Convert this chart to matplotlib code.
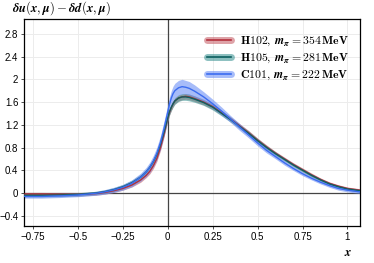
import matplotlib
matplotlib.use("Agg")
import matplotlib.pyplot as plt
import numpy as np

plt.rcParams['mathtext.fontset'] = 'cm'
plt.rcParams['font.family'] = ['Liberation Sans', 'DejaVu Sans']

x = [-0.8, -0.7, -0.6, -0.5, -0.4, -0.35, -0.3, -0.25, -0.2, -0.15, -0.12, -0.1,
     -0.08, -0.06, -0.04, -0.02, -0.01, 0.0, 0.01, 0.02, 0.03, 0.04, 0.06, 0.08,
     0.1, 0.12, 0.15, 0.2, 0.25, 0.3, 0.35, 0.4, 0.45, 0.5, 0.55, 0.6, 0.65, 0.7,
     0.75, 0.8, 0.85, 0.9, 0.95, 1.0, 1.07]

h102 = [-0.02, -0.02, -0.025, -0.025, -0.01, 0.01, 0.04, 0.08, 0.14, 0.23, 0.31, 0.38,
        0.48, 0.61, 0.80, 1.04, 1.18, 1.31, 1.42, 1.50, 1.57, 1.62, 1.67, 1.69,
        1.70, 1.69, 1.66, 1.60, 1.52, 1.41, 1.30, 1.18, 1.06, 0.93, 0.81, 0.70, 0.60, 0.50,
        0.41, 0.32, 0.24, 0.17, 0.12, 0.08, 0.05]
h102_err = [0.03, 0.03, 0.03, 0.03, 0.03, 0.03, 0.03, 0.03, 0.035, 0.04, 0.04, 0.045,
            0.05, 0.05, 0.05, 0.05, 0.05, 0.05, 0.05, 0.05, 0.05, 0.05, 0.05, 0.05,
            0.05, 0.05, 0.05, 0.05, 0.045, 0.04, 0.04, 0.04, 0.04, 0.035, 0.035, 0.03, 0.03, 0.03,
            0.03, 0.03, 0.025, 0.025, 0.025, 0.025, 0.025]

h105 = [-0.04, -0.04, -0.035, -0.025, 0.0, 0.025, 0.06, 0.11, 0.18, 0.28, 0.37, 0.45,
        0.55, 0.68, 0.86, 1.08, 1.20, 1.32, 1.43, 1.51, 1.57, 1.62, 1.67, 1.69,
        1.69, 1.68, 1.65, 1.59, 1.51, 1.40, 1.29, 1.17, 1.05, 0.92, 0.80, 0.69, 0.59, 0.49,
        0.40, 0.31, 0.23, 0.16, 0.11, 0.07, 0.04]
h105_err = [0.03, 0.03, 0.03, 0.03, 0.03, 0.03, 0.035, 0.04, 0.045, 0.05, 0.05, 0.055,
            0.06, 0.06, 0.06, 0.06, 0.06, 0.06, 0.06, 0.06, 0.06, 0.06, 0.06, 0.06,
            0.06, 0.06, 0.055, 0.05, 0.05, 0.045, 0.045, 0.04, 0.04, 0.04, 0.035, 0.035, 0.03, 0.03,
            0.03, 0.03, 0.025, 0.025, 0.025, 0.025, 0.025]

c101 = [-0.06, -0.06, -0.05, -0.035, -0.005, 0.02, 0.055, 0.10, 0.17, 0.28, 0.37, 0.45,
        0.56, 0.70, 0.89, 1.14, 1.28, 1.42, 1.56, 1.67, 1.75, 1.80, 1.85, 1.87,
        1.86, 1.84, 1.79, 1.69, 1.57, 1.44, 1.30, 1.16, 1.02, 0.88, 0.75, 0.64, 0.53, 0.43,
        0.34, 0.26, 0.19, 0.13, 0.08, 0.05, 0.02]
c101_err = [0.03, 0.03, 0.03, 0.03, 0.035, 0.04, 0.045, 0.05, 0.06, 0.07, 0.08, 0.09,
            0.10, 0.11, 0.12, 0.13, 0.13, 0.13, 0.13, 0.13, 0.13, 0.13, 0.13, 0.13,
            0.12, 0.12, 0.11, 0.09, 0.08, 0.07, 0.06, 0.06, 0.05, 0.05, 0.045, 0.04, 0.04, 0.035,
            0.035, 0.03, 0.03, 0.03, 0.03, 0.03, 0.03]

labels = [r'$\mathbf{H102},\,\mathbfit{m}_{\boldsymbol{\pi}}=\mathbf{354\,MeV}$',
          r'$\mathbf{H105},\,\mathbfit{m}_{\boldsymbol{\pi}}=\mathbf{281\,MeV}$',
          r'$\mathbf{C101},\,\mathbfit{m}_{\boldsymbol{\pi}}=\mathbf{222\,MeV}$']
line_colors = ['#b3303d', '#0d6060', '#3b6cf0']
band_colors = ['#c8646c', '#3f9595', '#6d90f5']

xticks = [-0.75, -0.5, -0.25, 0, 0.25, 0.5, 0.75, 1]
xticklabels = ['−0.75', '−0.5', '−0.25', '0', '0.25', '0.5', '0.75', '1']
yticks = [-0.4, 0, 0.4, 0.8, 1.2, 1.6, 2, 2.4, 2.8]
yticklabels = ['−0.4', '0', '0.4', '0.8', '1.2', '1.6', '2', '2.4', '2.8']

fig = plt.figure(figsize=(3.74, 2.63), dpi=100)
ax = fig.add_axes([0.064, 0.1407, 0.8986, 0.7871])

ax.axhline(0, color='#444444', lw=0.9, zorder=1)
ax.axvline(0, color='#444444', lw=0.9, zorder=1)

xa = np.array(x)
for ys, es, lc, bc in zip([h102, h105, c101], [h102_err, h105_err, c101_err], line_colors, band_colors):
    ya = np.array(ys); ea = np.array(es)
    ax.fill_between(xa, ya - ea, ya + ea, color=bc, alpha=0.6, lw=0, zorder=2)
    ax.plot(xa, ya, color=lc, lw=1.0, zorder=3)

from matplotlib.lines import Line2D
from matplotlib.legend_handler import HandlerBase

class BandHandler(HandlerBase):
    def __init__(self, lc, bc):
        super().__init__()
        self.lc = lc; self.bc = bc
    def create_artists(self, legend, orig_handle, xdescent, ydescent, width, height, fontsize, trans):
        y = height / 2 - ydescent
        l1 = Line2D([0, width], [y, y], color=self.bc, lw=5, alpha=0.6, solid_capstyle='round', transform=trans)
        l2 = Line2D([0, width], [y, y], color=self.lc, lw=1.2, transform=trans)
        return [l1, l2]

proxies = [Line2D([], []) for _ in labels]
hmap = {p: BandHandler(lc, bc) for p, lc, bc in zip(proxies, line_colors, band_colors)}
ax.legend(proxies, labels, handler_map=hmap, loc='upper right', bbox_to_anchor=(1.0, 0.975),
          frameon=False, fontsize=8.5, handlelength=2.0, handletextpad=0.8, labelspacing=0.3)

ax.set_xlim(-0.80, 1.07)
ax.set_ylim(-0.58, 3.06)
ax.set_xticks(xticks)
ax.set_xticklabels(xticklabels)
ax.set_yticks(yticks)
ax.set_yticklabels(yticklabels)
ax.tick_params(labelsize=7, length=2.5, width=0.6, pad=1.5, color='#333333')
ax.grid(True, color='#ececec', lw=0.7, zorder=0)
ax.set_axisbelow(True)
for s in ax.spines.values():
    s.set_linewidth(0.9)
    s.set_color('black')

fig.text(0.032, 0.97, r'$\boldsymbol{\delta u(x,\mu)-\delta d(x,\mu)}$', fontsize=9.2, ha='left', va='center')
fig.text(0.930, 0.038, r'$\boldsymbol{x}$', fontsize=9, ha='center', va='center')

fig.savefig('out.png', dpi=100)
